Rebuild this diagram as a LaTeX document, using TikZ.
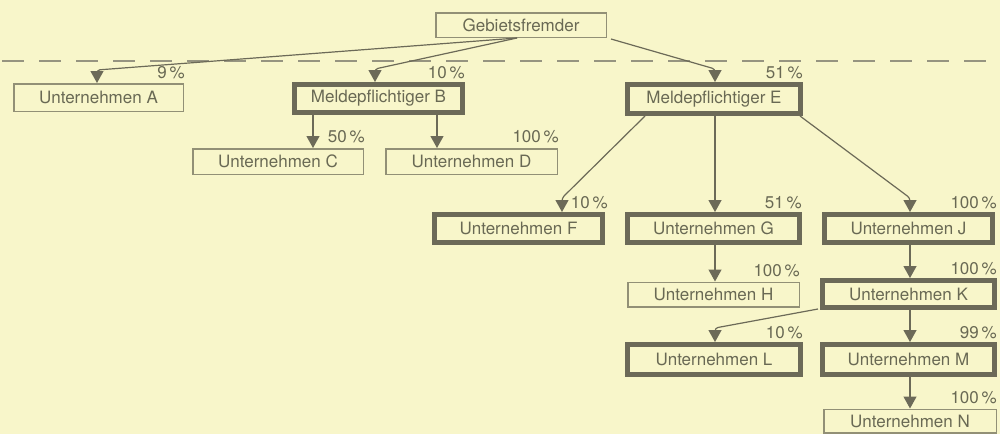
\documentclass[tikz,border=0pt]{standalone}
\usepackage{fontspec}
\setmainfont{TeX Gyre Heros}
\usetikzlibrary{arrows.meta,calc}
\definecolor{bg}{RGB}{248,246,202}
\definecolor{ln}{RGB}{108,106,88}
\definecolor{thin}{RGB}{146,144,118}
\definecolor{tx}{RGB}{105,105,84}
\definecolor{dsh}{RGB}{150,148,128}
\tikzset{
  basebox/.style={rectangle, font=\fontsize{17}{20}\selectfont, text=tx, inner sep=0pt},
  thinbox/.style={basebox, draw=thin, line width=1.5pt},
  thickbox/.style={basebox, draw=ln, line width=5pt},
  pct/.style={font=\fontsize{17}{20}\selectfont, text=tx, inner sep=0pt, anchor=south east},
  arr/.style={draw=ln, line width=1.2pt, -{Triangle[width=13pt,length=12pt]}, rounded corners=3pt},
}
\begin{document}
\begin{tikzpicture}[x=1pt,y=-1pt]
\fill[bg] (0,0) rectangle (1000,434);
\useasboundingbox (0,0) rectangle (1000,434);
\draw[dsh, line width=1.4pt, dash pattern=on 22pt off 15pt] (2,61) -- (1000,61);

\node[thinbox, minimum width=170.5pt, minimum height=24.5pt] (GF) at (521,25) {Gebietsfremder};

\node[thinbox, minimum width=169.5pt, minimum height=27.5pt] (A) at (98.5,97.5) {Unternehmen A};
\node[thickbox, minimum width=168pt, minimum height=28pt] (B) at (378.5,98.5) {Meldepflichtiger B};
\node[thickbox, minimum width=173pt, minimum height=29pt] (E) at (714,99) {Meldepflichtiger E};

\node[thinbox, minimum width=170.5pt, minimum height=25.5pt] (C) at (278,161.5) {Unternehmen C};
\node[thinbox, minimum width=171.5pt, minimum height=25.5pt] (D) at (471.5,161.5) {Unternehmen D};

\node[thickbox, minimum width=168pt, minimum height=28pt] (F) at (518.5,228.5) {Unternehmen F};
\node[thickbox, minimum width=172pt, minimum height=28pt] (G) at (713.5,228.5) {Unternehmen G};
\node[thickbox, minimum width=168pt, minimum height=28pt] (J) at (908.5,228.5) {Unternehmen J};

\node[thinbox, minimum width=171.5pt, minimum height=24.5pt] (H) at (713.5,294.5) {Unternehmen H};
\node[thickbox, minimum width=172pt, minimum height=27pt] (K) at (908.5,294) {Unternehmen K};

\node[thickbox, minimum width=173pt, minimum height=30pt] (L) at (714,359.5) {Unternehmen L};
\node[thickbox, minimum width=172pt, minimum height=30pt] (M) at (908.5,359.5) {Unternehmen M};

\node[thinbox, minimum width=172.5pt, minimum height=23.5pt] (N) at (910,421) {Unternehmen N};

% arrow tip coordinates
\coordinate (tA) at ($(A.north)+(-1.5,0)$);
\coordinate (tB) at ($(B.north)+(-3.5,0)$);
\coordinate (tE) at ($(E.north)+(1,0)$);
\coordinate (tC) at ($(C.north east)+(-51,0)$);
\coordinate (tD) at ($(D.north west)+(52,0)$);
\coordinate (tF) at ($(F.north)+(43.5,0)$);
\coordinate (tG) at ($(G.north)+(1.5,0)$);
\coordinate (tJ) at ($(J.north)+(1.5,0)$);
\coordinate (tL) at ($(L.north)+(1,0)$);

\draw[arr] ($(GF.south)+(-4,0)$) -- ($(tA)+(0,-13)$) -- (tA);
\draw[arr] ($(GF.south)+(-4,0)$) -- ($(tB)+(0,-13)$) -- (tB);
\draw[arr] ($(GF.south east)+(4,1)$) -- ($(tE)+(0,-13)$) -- (tE);

\draw[arr] (B.south -| tC) -- (tC);
\draw[arr] (B.south -| tD) -- (tD);

\draw[arr] ($(E.south west)+(20,0)$) -- ($(tF)+(0,-14)$) -- (tF);
\draw[arr] (E.south -| tG) -- (tG);
\draw[arr] ($(E.south east)+(-3,0)$) -- ($(tJ)+(0,-14)$) -- (tJ);

\draw[arr] (G.south -| tG) -- (H.north -| tG);
\draw[arr] (J.south -| tJ) -- (K.north -| tJ);
\draw[arr] ($(K.south west)+(-2,-1)$) -- ($(tL)+(0,-14)$) -- (tL);
\draw[arr] (K.south -| tJ) -- (M.north -| tJ);
\draw[arr] (M.south -| tJ) -- (N.north -| tJ);

% percentages
\node[pct] (pA) at ($(A.north east)+(1,-4)$) {9\,\%};
\node[pct] (pB) at ($(B.north east)+(0,-3)$) {10\,\%};
\node[pct] (pE) at ($(E.north east)+(0,-3)$) {51\,\%};
\node[pct] (pC) at ($(C.north east)+(1,-5)$) {50\,\%};
\node[pct] (pD) at ($(D.north east)+(1,-5)$) {100\,\%};
\node[pct] (pF) at ($(F.north east)+(3,-3)$) {10\,\%};
\node[pct] (pG) at ($(G.north east)+(0,-3)$) {51\,\%};
\node[pct] (pJ) at ($(J.north east)+(2,-3)$) {100\,\%};
\node[pct] (pH) at ($(H.north east)+(0,-4)$) {100\,\%};
\node[pct] (pK) at ($(K.north east)+(0,-3)$) {100\,\%};
\node[pct] (pL) at ($(L.north east)+(0,-3)$) {10\,\%};
\node[pct] (pM) at ($(M.north east)+(0,-3)$) {99\,\%};
\node[pct] (pN) at ($(N.north east)+(0,-4)$) {100\,\%};
\end{tikzpicture}
\end{document}
